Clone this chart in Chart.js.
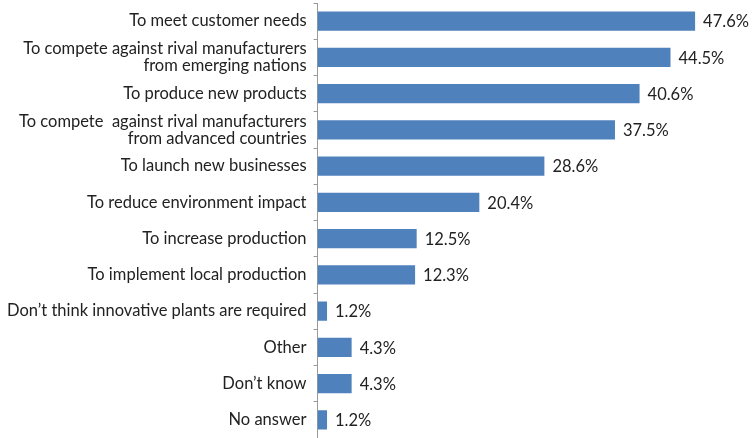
<!DOCTYPE html>
<html>
<head>
<meta charset="utf-8">
<script src="https://cdn.jsdelivr.net/npm/chart.js@4/dist/chart.umd.min.js"></script>
<style>
  html, body { margin: 0; padding: 0; background: #fff; }
  #wrap { width: 752px; height: 438px; }
</style>
</head>
<body>
<div id="wrap"><canvas id="chart" width="752" height="438"></canvas></div>
<script>
// Reasons for needing innovative plants (share of respondents)
const categories = [
    'To meet customer needs',
    ['To compete against rival manufacturers', 'from emerging nations'],
    'To produce new products',
    ['To compete  against rival manufacturers', 'from advanced countries'],
    'To launch new businesses',
    'To reduce environment impact',
    'To increase production',
    'To implement local production',
    'Don\u2019t think innovative plants are required',
    'Other',
    'Don\u2019t know',
    'No answer'
];
const shares = [47.6, 44.5, 40.6, 37.5, 28.6, 20.4, 12.5, 12.3, 1.2, 4.3, 4.3, 1.2];

const FONT = "Lato, 'Open Sans', sans-serif";

// Draw "xx.x%" just past the end of each bar
const valueLabels = {
    id: 'valueLabels',
    afterDatasetsDraw(chart) {
        const c = chart.ctx;
        const meta = chart.getDatasetMeta(0);
        c.save();
        c.font = '16.5px ' + FONT;
        c.fillStyle = '#222';
        c.textAlign = 'left';
        c.textBaseline = 'middle';
        meta.data.forEach((bar, i) => {
            c.fillText(shares[i].toFixed(1) + '%', bar.x + 8, bar.y + 1);
        });
        c.restore();
    }
};

new Chart(document.getElementById('chart'), {
    type: 'bar',
    data: {
        labels: categories,
        datasets: [{
            data: shares,
            backgroundColor: '#4f81bd',
            borderWidth: 0,
            barPercentage: 0.53,
            categoryPercentage: 1
        }]
    },
    options: {
        indexAxis: 'y',
        responsive: false,
        animation: false,
        layout: { padding: { top: 3, bottom: 0, left: 0, right: 22 } },
        plugins: {
            legend: { display: false },
            tooltip: { enabled: false }
        },
        scales: {
            x: {
                display: false,
                min: 0,
                max: 52
            },
            y: {
                offset: true,
                // let the categories use the full height, like the original
                afterFit(scale) {
                    scale.paddingTop = 0;
                    scale.paddingBottom = 0;
                },
                border: { display: true, color: '#9a9a9a', width: 1 },
                grid: {
                    offset: true,
                    drawOnChartArea: false,
                    drawTicks: true,
                    tickLength: 4,
                    color: '#9a9a9a'
                },
                ticks: {
                    autoSkip: false,
                    color: '#222',
                    padding: 7,
                    font: { family: FONT, size: 16.5, lineHeight: 1.05 }
                }
            }
        }
    },
    plugins: [valueLabels]
});
</script>
</body>
</html>
